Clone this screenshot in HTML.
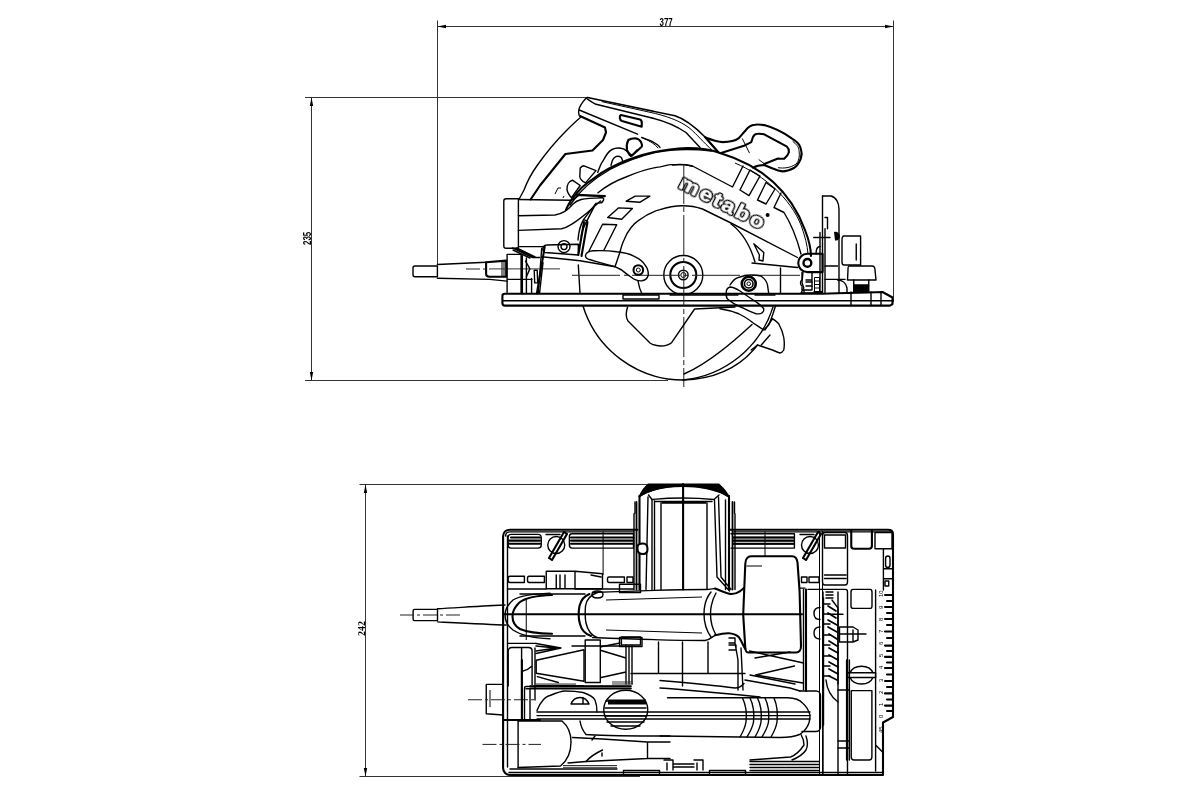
<!DOCTYPE html>
<html><head><meta charset="utf-8">
<style>
html,body{margin:0;padding:0;background:#fff;width:1200px;height:800px;overflow:hidden}
svg{display:block}
.d{stroke:#333;stroke-width:1;fill:none}
.s{stroke:#000;stroke-width:1.4;fill:none;stroke-linejoin:round;stroke-linecap:round}
.t{stroke:#000;stroke-width:2.1;fill:none;stroke-linejoin:round;stroke-linecap:round}
.n{stroke:#000;stroke-width:1;fill:none}
.c{stroke:#222;stroke-width:1;fill:none;stroke-dasharray:14 3 3 3}
.f{fill:#000;stroke:none}
text{font-family:"Liberation Sans",sans-serif}
</style></head><body>
<svg width="1200" height="800" viewBox="0 0 1200 800">
<defs><filter id="gs" x="-10%" y="-10%" width="120%" height="120%"><feColorMatrix type="saturate" values="0"/></filter></defs>
<!-- ===== DIMENSIONS TOP ===== -->
<g id="dims">
<path class="d" d="M437.5 20.5V264.5 M893.5 20.5V302 M437.5 26.5H893.5 M305 97.5H590 M311.5 97.5V380.5 M305 380.5H668"/>
<path class="f" d="M437.5 26.5 L446 24.8 L446 28.2Z M893.5 26.5 L885 24.8 L885 28.2Z M311.5 97.5 L309.8 106 L313.2 106Z M311.5 380.5 L309.8 372 L313.2 372Z"/>
<g filter="url(#gs)"><text x="0" y="0" font-size="11" font-weight="bold" transform="translate(659.5 26.3) scale(0.72 1)">377</text>
<text x="0" y="0" font-size="11" font-weight="bold" transform="translate(311 245) rotate(-90) scale(0.72 1)">235</text></g>
<path class="d" d="M359.5 484.5H648 M365.5 484.5V776.5 M359.5 776.5H640"/>
<path class="f" d="M365.5 484.5 L363.8 493 L367.2 493Z M365.5 776.5 L363.8 768 L367.2 768Z"/>
<g filter="url(#gs)"><text x="0" y="0" font-size="11" font-weight="bold" transform="translate(365 636) rotate(-90) scale(0.9 1)" style="font-family:'Liberation Serif',serif">242</text></g>
</g>
<!-- ===== TOP VIEW ===== -->
<g id="top">
<!-- handle top -->
<path class="s" d="M587.5 97.5 L675 115.8 C685 119 695 127 705 137 L718 152" style="stroke-width:1.6"/>
<path class="s" d="M587.5 97.5 C585 98.5 581 104 579.2 108.3 C578.3 111 578.5 113.5 579.2 115.5"/>
<path class="n" d="M601.7 101.6 L650 112.3 C665 115.5 680 120.5 690 128.5 C697 134.5 703 142 712.5 150.5"/>
<path class="s" d="M587.5 99.2 C592 102 595 104 596 104.2 L650 117.5 C665 121 675 125 686 132.5 L700 147.5"/>
<path class="s" d="M579.2 110 L637.5 134.2 M641.7 137.5 C646 139 650 140 652.5 141.7 C656 143.5 659 145 660 147.5"/>
<path class="t" d="M621 115 L640 119.5 C642 120 642 122 641.7 126.7 L622 121 C619.5 120 619 116 621 115Z"/>
<path class="n" d="M643.3 138.3 C650 141 655 144 658.3 148.3"/>
<!-- rear D handle -->
<path class="t" d="M705.5 137.5 C712 140 717 142 722.9 142.1 C730 142 735 141 738.5 138.4 C741 136 743 133 745.8 130.2 C748 127 751 125 755 124.7 C758 124.3 761 124.5 764.2 125.1 C775 128 784 133 791.7 138.4 C796 141 800 145 800.8 148.5 C802 152 802 155 800.8 158.6 C799 163 797 166 794.4 167.7 C790 170 786 171.4 782.5 171.4 C778 171 775 169.5 773.3 168.7 L764.2 165 C760 165 756 166 753.2 167.7"/>
<path class="n" d="M792.6 141.2 C796 144 799 147 799 150.3 C800 156 799 161 796.2 164 C790 168 784 168.5 778 167.7"/>
<path class="t" d="M721.1 153.1 L744 145.7 L751.3 142.1 C752 140 752.5 138 753.2 136.6 C754.5 134.5 756 133.8 757.7 133.8 C760 133.6 762 133.8 764.2 134.3 L787 146.7 C788.5 148 789 150 788.9 152.2 C788 155 786.5 157 784.3 158.6 C782 159 780 158.6 778 158.6 L764.2 164"/>
<path class="t" d="M705.5 137.5 L718.3 152.2"/>
<path class="n" d="M742.2 138.4 L749.5 153.1 M758.7 159.5 L766 165"/>
<!-- grip -->
<path class="s" d="M581 117 C576 121 572 125 566 131 C556 141 546 153 537.5 165 C531 174 527 182 524 190 C522 194 520 197 519 199.5"/>
<path class="t" d="M580 116 L605 127.5 L606 132.5 L603 140 L592.5 150.5 L565.4 154 L540 185.5 L530.6 199.5"/>
<path class="s" d="M580.2 168 C582 166 583 165.8 584 165.8 L596 170.6 L585.5 182.9 C582 181 580 179 579.8 176.7 Z"/>
<path class="s" d="M572.4 180.2 L580.2 185.5 L571.5 197.7 C569 195 567 192 567 189 C567 185 569 181 572.4 180.2Z"/>
<path class="s" d="M597.7 172.4 C600 166 602 162 603 161 C606 155 609 151 612 149.5 C615 148 620 147.7 624 149.2 C627 151 629 153 629.5 155.5"/>
<path class="s" d="M611 165.4 C612 161 613 159 614 158 C616 156 619 156 621.4 157.5 L622.5 160.5"/>
<path class="t" d="M628.3 140 C631 138.5 633 138.3 635 138.3 C638 138.8 640 140 641 142 C642 144 642 146 641.7 146.7 L631.7 155.8 C629 154 627.5 152 627 150 C626.5 147 626.8 143 628.3 140Z"/>
<path class="n" d="M637.5 149 L630 157"/>
<path class="t" d="M576.7 194.7 L604.9 196.1"/><path class="s" d="M599 197 C602 197 604 198 603.7 199.5 C603 201.5 601.5 202.9 600.4 202.9 L595.9 203.4 L583.5 219.7 L586.9 220.9 L595.9 203.4 M586.9 220.9 C584 226 582 231 581.2 236 M583.5 219.7 C580 226 578.5 232 578 240"/>
<path class="n" d="M555 194 L558 188 L561 188 M563 198 L564 196"/>
<!-- housing outer arc -->
<path class="t" d="M566 210 C568 205 570 201 573.2 197.7 C578 191 585 184 592.5 179.4 C598 175 604 171 610 168 C616 165 622 162 627.5 160 C645 153 665 149 687.5 148 C700 148 712 150 720 153 C760 165 790 190 805 230 C810 243 811 250 811 256"/>
<path class="s" d="M570 205 C580 190 595 178 610 169.5 C625 161.5 640 156 655 152.5 C670 149.5 690 148.5 712 151"/><path class="n" d="M735 163 C765 176 790 198 801 225 C805 236 807.5 246 808 254"/>
<path class="s" d="M598 192.7 C605 187 615 181 626 177 C640 171 650 168 660 166.9 C665 166 668 164.6 671 164.6 L683.6 164.6 C688 165 690 165.5 692.6 166.3"/>
<!-- guard inner band -->
<path class="s" d="M672.5 165 C680 164 688 165 692.5 166 L732.5 187 L743 166"/>
<path class="s" d="M740 190 L750 170 L760 176 L749 195.6Z M757.5 200 L766 182.5 L775 189 L766 204Z M774 207.5 L781 193 M774 207.5 L784 212.5 C790 222 796 235 801 254"/>
<path class="s" d="M620 252 C621 248 622 244 624 240 C628 230 633 224 639.7 219.7 C646 215 653 211.5 660 209.6 C668 207 676 205.8 682.5 205.7 C690 205.7 697 207 702.5 209 L730 222.5 L797.5 257.5"/>
<path class="s" d="M731 224 C742 232 750 245 755 262"/>
<!-- vents left -->
<path class="s" d="M626.2 201.2 L635.2 196.1 L649.9 196.1 L639.7 202.3Z M607.7 217.5 L618.4 207.9 L632.4 208.5 L621.7 219.2Z M589 251 L602.6 224.2 L616.7 224.8 L604 250"/>
<!-- metabo -->
<g filter="url(#gs)" transform="translate(677.5 187.2) rotate(27.2) scale(1.12 1)" font-size="20.5" font-weight="bold" letter-spacing="2.1"><text x="0" y="0" fill="#000" stroke="#000" stroke-width="3" stroke-linejoin="round">metabo</text><text x="0" y="0" fill="#fff" stroke="#fff" stroke-width="0.5" stroke-linejoin="round">metabo</text></g>
<circle cx="767.6" cy="214.9" r="2" class="f"/>
<!-- rear battery/block -->
<path class="s" d="M506 198.7 H518.4 V248.3 H506 C504.5 248.3 503.8 247.5 503.8 246 V201 C503.8 199.5 504.5 198.7 506 198.7Z"/>
<path class="s" d="M518.4 199.5 L571 200.3 C575 199 577 196 579.4 195.4 L603.8 196.3 M518.4 215.8 L555 215 C562 214 568 210 573 204 C577 200 581 198 602 197.9 M518.4 230.4 L561.5 228.8 C570 227 578 220 587.5 212.5 L600.5 201 M518.4 246.6 L543.6 246.6"/>
<path class="s" d="M546.7 245 L578.3 244.2 V255 L545 252.5 C543 252 542.5 250 543 248 C543.5 246 545 245 546.7 245Z"/><path class="s" d="M541.7 248.3 L538.3 293.3 M541.7 256.7 L580 260.8 L615 266.7 M578.3 265 L580 293.3"/><path class="t" d="M578.3 255 L584 222 M581.5 256 L587.5 222"/>
<circle cx="564" cy="246.6" r="6" class="s"/><circle cx="564" cy="246.6" r="3" class="s"/>
<path class="s" d="M515 248.3 L533.3 256.7 M513 250 L530 258"/>
<!-- cord -->
<path class="s" d="M415 266 H437.4 V276.7 H415 C413.5 276.7 413 276 413 275 V267.8 C413 266.7 413.5 266 415 266Z"/>
<path class="s" d="M437.4 264.5 L486.1 262.3 M437.4 278.3 L489.6 279.4 L507 281.1"/>
<path class="t" d="M486.1 262.3 L506.2 260.6 V276.7 L489.6 276.7 M486.1 262.3 V274 C486.1 276 487 276.7 489.6 276.7"/>
<path class="n" d="M504 262 V276 M502 262 V276"/>
<path class="c" d="M466 269 H490"/>
<path class="d" d="M490 268.9 H560"/>
<path class="s" d="M507.1 254.4 H521.1 V293.4 M507.1 254.4 V293.4 M507.1 279.4 H532 M526.4 258 V293.4 M531.6 278.5 V293.4"/>
<path class="t" d="M522 256 V293.4"/>
<path class="s" d="M525.5 261 L529.9 268.9 L526.4 276.7"/>
<path class="s" d="M512.4 247.9 L532.5 257.5 M516.7 247.9 L535.1 257 M532.5 257.5 H539.5"/>
<path class="t" d="M544.7 246.6 L536.9 293.4"/>
<path class="s" d="M543 262.7 L539.5 293.4 M534.2 270.2 H537.2 L537.7 282.9 H534.7Z"/>
<!-- base plate -->
<path class="t" d="M505 293.8 H820 C830 293 860 293 882.5 292 L892.5 297.5 V304 L890 305.6 H505 C503 305.6 502.4 304 502.4 303 V296 C502.4 294.5 503 293.8 505 293.8Z"/>
<path class="s" d="M503 300.8 H892.5 M623 295 H659 V299 H623Z M670 295 H738 M755 295 H775 M851 292 V305.6 M871 292 V305.6 M881 292 V305.6"/>
<!-- arbor -->
<circle cx="683.3" cy="275" r="19.5" class="s"/>
<circle cx="683.3" cy="275" r="13" class="t"/>
<circle cx="683.3" cy="275" r="4.8" class="s"/>
<circle cx="683.3" cy="275" r="2.5" class="n"/>
<path class="c" style="stroke-dasharray:40 3 5 3" d="M683.8 164 V387"/><path class="c" style="stroke-dasharray:48 4 4 4" d="M572 275.3 H800"/>
<!-- lever -->
<path class="s" d="M593.3 250.8 C600 250.5 610 250.8 616.7 251.7 C624 252.5 629 253.5 633.3 255.8 C639 258.5 643 261 645 265 C647.5 268 648.5 271 648.3 275 C647.5 278 645 280.5 641.7 280.8 C638 281 634 279.5 631.7 277.5 C628 275 624.5 272.5 621.7 270 L615 266.7 C607 264.5 597 262 588.3 259.2 C585.5 258 585 256 585.8 254.5 C587 252 590 251 593.3 250.8Z"/>
<path class="s" d="M620 252 L615 266.7"/>
<circle cx="638.3" cy="270" r="4.8" class="t"/><circle cx="638.3" cy="270" r="2" class="n"/>
<!-- right knob on lower guard -->
<circle cx="748.75" cy="283.75" r="7" class="t" style="stroke-width:2.6"/><circle cx="748.75" cy="283.75" r="4.3" class="s" style="stroke-width:1.6"/><circle cx="748.75" cy="283.75" r="1.8" class="n"/>
<path class="s" d="M730 285 C733 280 737 277.5 740 277 C745 275 748 275 751 275 C756 275 759 275.5 761 276 C765 279 767 282 767.5 285 L768.75 293.75"/>
<path class="s" d="M730 287 C727 288 726 290 726.25 293 C726 296 726.5 298 727.5 299 C731 302 735 304.5 738.75 306 C745 309 750 312 756.25 313.75 C759 314.2 761 313.8 762.5 312.5 C764 311 764 310 763.75 308.75 C762 306 759 304 756.25 302 C750 298 745 294.5 740 291 C736 288.5 733 287 730 287Z"/>
<path class="s" d="M720 308.75 C728 310 733 311.5 738.75 313.75 C745 317 749 319.5 752.5 322.5 C757 325.5 760 327.5 763.75 330 C765.5 328 767 326.5 768.75 325 C771 320 773 314 775 307.5 L776 305.6"/>
<path class="s" d="M765 330 C767.5 326 770 322 772.5 318.75 C775 320 777 322 778.75 323.75 C781 328 783 333 783.75 337.5 C784.5 342 784.5 346 783.75 350 C782.5 352 781.5 353 780 353 C777 352 775 351 772.5 350 L757.5 345 C755 347 753 348.5 751.25 350"/>
<path class="s" d="M770 335 L761.25 345"/>
<!-- lower blade -->
<path class="s" d="M583 306 A105 105 0 0 0 683 380 A105 105 0 0 0 773 307"/>
<path class="s" d="M684 374 C705 365 730 345 752 324.5"/>
<path class="s" d="M627.5 307.2 C626 312 626 318 628 321 L650 343 C656 347 666 347 671.6 342.7 L694.6 309 L735 307"/>
<path class="s" d="M683 380 C715 379 740 368 757.5 345"/>
<!-- right fence -->
<path class="s" d="M822.5 196 H831 C836 197 839 203 839 209 V293"/>
<path class="s" d="M822.5 196 V293 M825 228.75 V293 M820 232.5 V293 M813.75 237.5 H830 M825 217.5 H827.5 V228.75"/>
<path class="f" d="M834 232 C837 231 839.5 233 840 236 C840 239 838 241 835 240.5Z"/>
<path class="s" d="M844 236 H860.6 V265 H844 C842.5 265 842 263 842 262 V240 C842 238 842.5 236 844 236Z M856.25 244 V260"/>
<path class="s" d="M816 254 C816 249 818 246.5 820 246.5"/>
<path class="s" d="M849 266 H872 C874 266 875 268 875 270 L876 280 H847.5 L848 270 C848 268 848 266 849 266Z"/>
<path class="s" d="M853.75 280 V285 H868.75 V280"/>
<path class="f" d="M853 285 H869.5 V292.5 H853Z"/>
<path class="t" d="M807.4 253.8 H822.6 V272.1 H807.4 A9.15 9.15 0 0 1 807.4 253.8Z"/>
<circle cx="807.4" cy="262.9" r="3.9" class="t" style="stroke-width:2.4"/>
<path class="s" d="M803 272 L802 282 C802.5 285 803.5 287 803.8 288 L801 293 H822.6 M806 282 H812 M806 286 H812"/>
<path class="s" d="M752 263 L797.5 267.5"/><path class="s" d="M638 281 C639 287 640.5 291 642 294"/>
<path class="s" d="M753.8 243.8 L763.8 252.5 L763 261 L759 260 L759.4 255 Z"/>
<path class="s" d="M780.5 268 V293 M825 266 H837.5 M825 279.4 H845 M837.5 280 C842 280 846 283 847 288 V293"/>
<path class="s" d="M802 272.5 V280 C800 281 800 285 802 286 V290 H812 V272.5 M806 280 H812 M804 290 V292"/>
<path class="n" d="M814.5 277.5 H819.5 V292 H814.5Z M814.5 281 H819.5 M814.5 284.5 H819.5 M814.5 288 H819.5"/><path class="f" d="M813.5 291 H822 V293 H813.5Z"/>
</g>

<!-- ===== BOTTOM VIEW ===== -->
<g id="bottom">
<!-- base plate outline -->
<path class="t" d="M637.5 529.75 H510 C506 529.75 503.1 532.5 503.1 536.5 V768 C503.1 772 506 775 510 775 H883 V722.5 L893 717 V534 C893 531.5 891 529.75 888 529.75 H729"/>
<path class="s" d="M505.6 536 C505.6 533.5 507.5 531.9 510 531.9 H633.75 M733.5 531.9 H891 M507.5 536 V720 M509 772.5 H883"/>
<!-- top row slots -->
<path class="s" d="M511 534.4 H538 C540 534.4 541.25 535.5 541.25 537.5 V545 C541.25 547 540 548.1 538 548.1 H511 C509 548.1 508.1 547 508.1 545 V537.5 C508.1 535.5 509 534.4 511 534.4Z"/>
<path class="t" d="M511 537.5 H540 M509 540.6 H540 M509 543.75 H540"/>
<path class="s" d="M572 533.75 H633.5 V548.1 H572 C570.5 548.1 569.4 547 569.4 545 V536.5 C569.4 535 570.5 533.75 572 533.75Z"/>
<path class="t" d="M571 537.5 H633.5 M571 540.6 H633.5 M571 543.75 H633.5"/>
<path class="s" d="M731 533.75 H794.4 V548.1 H731 M733 537.5 H794.4 M733 540.6 H794.4 M733 543.75 H794.4"/>
<path class="t" d="M733 537.5 H794 M733 540.6 H794 M733 543.75 H794"/>
<!-- angle symbols -->
<circle cx="556.25" cy="545" r="8.5" class="s"/>
<path class="t" d="M549 558 L564 532 M552 560 L567 534 M549 558 L552 560 M564 532 L567 534"/>
<path class="s" d="M546 534.5 H560"/>
<circle cx="810" cy="545" r="8.5" class="s"/>
<path class="t" d="M803 558 L818 532 M806 560 L821 534 M803 558 L806 560 M818 532 L821 534"/>
<path class="s" d="M800 534.5 H814"/>
<!-- vertical thin lines top area -->
<path class="n" d="M603.1 531.5 V575 M765 531.5 V556"/>
<!-- second row slots -->
<path class="s" d="M510 576.25 H524.4 V582.5 H510 C508.5 582.5 508.1 581.5 508.1 580 V578.5 C508.1 577 508.5 576.25 510 576.25Z M529 576.25 H544.4 V582.5 H529 C528 582.5 527.5 581.5 527.5 580 V578.5 C527.5 577 528 576.25 529 576.25Z M609 577 H624.4 V582.5 H609 C608 582.5 607.5 581.5 607.5 580 V578.5 C607.5 577.5 608 577 609 577Z M627 577 H633 V582.5 H627Z"/>
<path class="s" d="M507.5 589 H546 M575 589 H633.5 M800 588.1 H805"/>
<path class="s" d="M801.5 577 H807 V582.5 H801.5Z M809 577 H819 V582.5 H809Z"/>
<!-- switch box -->
<path class="s" d="M546.25 571.25 H575 L602.5 573.75 V588.75 H546.25Z M575 571.25 V588.75 M556.25 575 V588 M560 575 V588 M565 575 V588 M591 575 L601 577"/>
<!-- motor top cylinder -->
<path class="f" d="M648 483.5 H719 C723 487 727 491 729.5 496.5 L727.5 497 C718 490 700 486.5 683 486.5 C666 486.5 650 490 640 497 L638.5 496.5 C641 491 644 487 648 483.5Z"/>
<path class="t" d="M639.5 496 C650 489 666 486 683 486 C700 486 716 489 728.5 496"/>
<path class="s" d="M648.5 495 L652 499.5 C662 498.5 672 498 683 498 C694 498 704 498.5 714 499.5 L719 495"/>
<path class="s" d="M655 501.5 H712 M662 503 H706"/>
<path class="t" d="M639.5 496 V589.5 M729 496 V589.5"/>
<path class="t" d="M636.5 502 V589.5 M732.5 502 V589.5" style="stroke-width:1.8"/>
<path class="s" d="M635 502 V513 L634 514 V589.5 M734.5 502 V513 L735 514 V589.5"/>
<path class="s" d="M648 497 L646 589.5 M652 500 V589.5 M654.5 501 V589.5 M661 503 V589.5"/>
<path class="s" d="M714.5 500 L717 577 L729.5 591 M718.5 497 L721 577 L731 589.5 M707 503 V589.5 M725.5 500 V589.5"/>
<path class="t" d="M683.1 484 V589.5"/>
<path class="t" d="M637.5 547 C637.5 544 640.5 543.5 643 543.5 C646 543.5 647.5 545.5 647.5 549 C647.5 552 646 554 643 554 C640 554 637.5 552.5 637.5 549Z" style="fill:#fff"/>
<!-- rear handle block (top view) -->
<path class="t" d="M745.3 563.75 C745.5 559 748 556.2 751 556.2 H792 C795 556.2 797 558.5 797.5 562.4 L799.6 591.3 L801 646.3 C801 650 799 652.5 796.2 652.5 H748 C746 652.5 745.5 650 745.3 648 L743.2 614.6 Z"/>
<path class="n" d="M746.5 566 H762"/>
<!-- handle tube -->
<path class="t" d="M505 614.25 H802"/>
<path class="s" d="M550 593.1 C530 594 519 596 513 600 C507.5 605 505 610 505 615 C505 621 507.5 626 513 630 C519 634 530 638 550 638.75"/>
<path class="t" d="M552 595 C538 595.5 527 597 520 602 C514.5 607 512.5 612 512.5 616.25 C512.5 621 514.5 626 520 629 C527 632 538 633.5 552 633.75"/>
<path class="n" d="M526.25 600 V640"/>
<path class="s" d="M520 594 H585 M520 636 H585"/>
<path class="t" d="M589.5 594 C584 596 581 600 579.5 606 C578.5 611 578.5 619 580 624 C581.5 630 585 634 591 636"/>
<path class="s" d="M597.5 592.5 C590 595 586.5 600 585.5 606 C585 612 585 618 586 623 C587.5 630 591 635 597 637.5"/>
<path class="s" d="M592.5 592.5 C630 591 680 589.5 705 589.5 C710 589.5 713 588.5 715 588.5 M592.5 637.5 C630 639 680 640.5 705 640.5 C710 640 713 636 715 635.3"/>
<path class="n" d="M606 600 L702 597 M606 630 L702 633"/>
<path class="s" d="M711 592 C706 598 704 606 704 614 C704 622 706 630 711 637 M716 593 C712 600 710.5 607 710.5 614 C710.5 621 712 628 716 635"/>
<path class="s" d="M619.5 584.25 H640.5 V592.5 H619.5Z M619.5 637.5 H642 V646.5 H619.5Z"/>
<path class="s" d="M592 594.5 C592 592 594.5 591 597.5 591 C600.5 591 603 592 603 594.5 C603 597 600.5 598 597.5 598 C594.5 598 592 597 592 594.5Z"/>
<path class="t" d="M715 588.5 C722 591 727 594 731.5 594 C735 594 738 592.5 739.8 591.3 C741.5 590 743 589 744 588 M715 635.3 C720 634 725 633 728.75 633.2 C733 633.5 736 634.5 738.4 636.7 C741 640 743 645 745.3 649"/>
<!-- cord bottom -->
<path class="s" d="M414.5 609.4 H437.5 V620.6 H414.5 C413.5 620.6 413.1 620 413.1 619 V611 C413.1 610 413.5 609.4 414.5 609.4Z"/>
<path class="s" d="M437.5 608.75 C460 607.5 490 605.5 505 605 M437.5 621.9 C460 623 490 624.5 506.25 625"/>
<path class="c" d="M400 615 H460"/>
<!-- X frames middle -->
<path class="s" d="M507.5 643.4 H536 M572 646 H622"/>
<path class="s" d="M512 647.5 H528.5 C530.5 647.5 532.1 649 532.1 651 V684.8 M512 647.5 C509.5 647.5 508.2 649 508.2 651.5 V686 M521.6 648 V700 M523 671 C528 670 530 668 532 666"/>
<path class="s" d="M535 648 V700"/>
<path class="s" d="M536 643.5 L561 648 L536 653.5 M536 646 L556 648 L536 651"/>
<path class="s" d="M536.2 660.3 L584 649.8 V681.3 L536.2 673.2 Z M537.3 676.7 L558.3 682.5"/>
<path class="s" d="M585.2 640 H600.3 V682.5 H585.2Z"/>
<path class="s" d="M601.2 646.7 L620 643 M601.2 650.5 L626 658 M601.2 677.5 L626 672 M626 645 V684"/>
<path class="s" d="M621.4 637 H640.5 V645 H621.4Z M629 646 V684 M632 646 V684"/>
<path class="s" d="M530 686 H631 M530 688.3 H631"/>
<path class="d" d="M536 684 H576 M536 685.3 H576 M612 682 H633 M612 684 H633"/>
<path class="s" d="M658.5 642 V673.5 M682.5 642 V686 M708 642 V673.5 M631 673.5 H745"/>
<path class="s" d="M749.5 651 L803.5 663 M794.5 666 L755.5 675 L803 683 M755 658 L790 652"/>
<path class="s" d="M729 638 H735 V643 H729 M729 645 H736 V650 H729 M735 643 L738 660 V690 M741 648 L743 690"/>
<!-- right side structures -->
<path class="t" d="M806 589.5 V691"/>
<path class="s" d="M803.5 589.5 V690"/><path class="n" d="M819.5 531 V775 M822.5 531 V775"/>
<path class="s" d="M825 532.5 H845 C847 532.5 847.5 534 847.5 536 V582 C847.5 584 847 585 845 585 H825 C823.5 585 822.5 584 822.5 582 V536 C822.5 534 823.5 532.5 825 532.5Z M824.5 535 H845.5 V548 H824.5Z M824.5 575 H846 M824.5 578.5 H846"/>
<path class="t" d="M851.25 530 V546 C851.25 548 852 548.75 854 548.75 H869 C871 548.75 871.9 548 871.9 546 V530"/>
<path class="s" d="M875 532.5 H892 V548.75 H875Z M883.4 548.75 V590 M887.8 556 C889.3 556 890 557 890 558.5 V565 C890 566.5 889.3 567.5 887.8 567.5 C886.3 567.5 885.6 566.5 885.6 565 V558.5 C885.6 557 886.3 556 887.8 556Z M884.4 568.75 H892.5 M884.4 578.75 H892.5 M885 581 H888.75 V586 H885Z"/>
<path class="s" d="M853 589.4 H870 C871.5 589.4 872 590.5 872 592 V606 C872 607.5 871.5 608.4 870 608.4 H853 C851.5 608.4 851 607.5 851 606 V592 C851 590.5 851.5 589.4 853 589.4Z"/>
<path class="s" d="M808 589.4 H845.5 C847 589.4 847.5 590.5 847.5 592 V775 M823 592 V775 M838 592 V775 M846.6 660 V760 M849.4 660 V760"/>
<!-- rack -->
<path class="s" d="M823.5 598 V725 M826 592 H833 M826 595 H833 M826 598 H833 M832 600 L838 608 V684 M824 604 H830 M824 614 H830 M824 624 H830 M824 635 H830 M824 645 H830 M824 656 H830 M824 666 H830 M824 676 H830"/>
<path class="s" style="stroke-width:1.7" d="M828 606 L836 611 M828 613 L836 618 M828 620 L837 625 M828 627 L837 632 M829 634 L837 639 M829 641 L837 646 M829 648 L838 653 M829 655 L838 660 M829 662 L838 667 M829 669 L838 674 M829 676 L837 680"/>
<path class="s" d="M826 680 C827 690 831 697 838 702"/>
<path class="s" d="M820 607.5 C816 607.5 814 610 814 613.5 C814 617 816 619.5 820 619.5 M820 627 C816 627 814 629.5 814 633 C814 636.5 816 639 820 639"/>
<path class="s" d="M839.5 627 H853 L858 630 V640 L853 642 H839.5Z M853 630 V641 M828 614.25 H843 M839 634 H866"/>
<!-- oval & rect right -->
<path class="s" d="M850 673 C852 668 857 666.25 861.5 666.25 C866 666.25 871 668 873 673 M850 677.5 C852 682 857 684 861.5 684 C866 684 871 682 873 677.5 M847.5 672.8 H875.6 V677.5 H847.5Z"/>
<path class="s" d="M851.25 690.6 H871.9 V757 C871.9 759 871 760 869 760 H854 C852 760 851.25 759 851.25 757Z"/>
<path class="s" d="M838 690 H849 M838 741 H849 M838 748 H849"/>
<!-- ruler -->
<path class="s" d="M875.6 590 V771 M875.6 745 L883 752.5"/>
<path class="t" d="M885 595 H892.5 M887 601 H892.5 M885 607 H892.5 M887 613 H892.5 M885 619 H892.5 M887 625 H892.5 M885 631.5 H892.5 M887 638 H892.5 M885 645.6 H892.5 M887 651 H892.5 M885 656.9 H892.5 M887 662.5 H892.5 M885 668 H892.5 M887 674.5 H892.5 M885 681 H892.5 M887 687 H892.5 M885 693.4 H892.5 M887 699.5 H892.5 M885 705.6 H892.5 M887 711 H892.5"/>
<g font-size="6" font-family="Liberation Sans" fill="#000" filter="url(#gs)">
<text transform="translate(882.5 597) rotate(-90)">10</text>
<text transform="translate(882.5 609) rotate(-90)">9</text>
<text transform="translate(882.5 621) rotate(-90)">8</text>
<text transform="translate(882.5 633) rotate(-90)">7</text>
<text transform="translate(882.5 645) rotate(-90)">6</text>
<text transform="translate(882.5 657) rotate(-90)">5</text>
<text transform="translate(882.5 669) rotate(-90)">4</text>
<text transform="translate(882.5 682) rotate(-90)">3</text>
<text transform="translate(882.5 694) rotate(-90)">2</text>
<text transform="translate(882.5 706) rotate(-90)">1</text>
<text transform="translate(882.5 718) rotate(-90)">0</text>
<text transform="translate(882.5 733) rotate(-90)">45</text>
</g>
<!-- left knob -->
<path class="s" d="M486.25 684.4 L503.1 684.4 M486.25 684.4 V713.75 L503.1 715"/>
<path class="n" d="M490 690 V707"/>
<path class="c" d="M468 699.75 H535"/>
<path class="t" d="M521.9 660 V720 M503.1 720 H540"/>
<path class="s" d="M518.1 720 V767.5 M507.5 720 V767"/>
<!-- lower left block -->
<path class="s" d="M518.1 721 H562 C568 726 571 732 571 742 C571 752 568 760 560.5 766 L518.1 767.5"/>
<path class="c" d="M482.5 744.4 H541"/>
<!-- frames -->
<path class="s" d="M524.5 688 C524.5 687 525 686.5 526 686.5 H631 M526 688.75 H631 M524.5 688 V720 M530 690 V720"/>
<path class="t" d="M537 686 H583"/>
<path class="s" d="M537 712 H810 M537 715.6 H810 M537 719 H810"/>

<ellipse cx="625.75" cy="709.75" rx="22" ry="19.5" class="s"/>
<path class="f" d="M608 699.5 H646 V704.5 H608Z"/>
<path class="s" d="M606 701 H645 M605 708 H646 M605 716 H646 M607 722 H644 M611 726 H640"/>
<path class="s" d="M537 710.5 C540 702 546 696 550 695.5 C556 693 561 691 565 691 C572 691 578 691.5 583 692.5 C590 695 594 698 595 700 C597 705 597 709 597 712"/>
<path class="s" d="M571 704 C573 699 576 697.5 580 697.5 C584 697.5 587 699 589 704 Z M583 697.5 V704"/>
<path class="s" d="M580 721 C581 727 583 731 586 734.5 C600 736 640 736 670 736"/>
<path class="s" d="M572.5 737.5 L602.5 739 L647.5 742 V758.5 L586 761.5 L568 763 M647.5 742 H670 M647.5 758.5 H670"/>
<path class="s" d="M592 740 L595 736 M586 761.5 C590 757 596 753 602.5 750 M602 753 V756"/>
<!-- lower motor -->
<path class="s" d="M667.5 697.75 L787.5 697.75 C795 698 800 700 802.5 703 C806 706 808.5 710 810 715 C810 720 809 724 807 727 C805 731 802 733 799.5 734.5 C795 736.5 790 737.5 780 737.5 L660 736"/>

<path class="s" d="M742.5 698 C746 705 747 713 746 722 C745 728 743 732 740 737 M750 698 C753.5 705 754.5 713 753.5 722 C752.5 728 750 732 747 737 M757.5 698 C761 705 762 713 761 722 C760 728 758 732 755 737 M765 698 C768.5 705 769.5 713 768.5 722 C767.5 728 765 732 762 737 M774 698 C777 705 778 713 777 722 C776 728 774 732 771 737"/>
<path class="s" d="M799.5 691 H816 C818.5 691 820.5 693 820.5 695.5 V727 C820.5 729.5 818.5 731.5 816 731.5 H802 M801 734.5 C803 738 804 742 804 745 C800 751 796 755 790.5 757 L750 760 M806 736 C808 742 808 746 806 750 C802 756 797 758 792 760"/>
<path class="s" d="M660 680.5 C690 683 720 686 735 688 C740 688 742 686 744 683.5 M660 688 C690 690 730 694 760 697"/>
<path class="s" d="M745 680 L790 688 L800 691 M750 675 L795 684"/>
<!-- bottom slots -->
<path class="s" d="M750 761.5 H819 M750 764.5 H819 M750 767.5 H819 M750 770.5 H819 M709.5 775 V770.5 H745.5 V775"/>
<path class="s" d="M664 760 H673 V770 M667 763 V770 M694 760 H703 V770 M697 763 V770 M673 764 H694 M673 767 H694"/>
<path class="s" d="M510 769 H617 M623.5 775 V770.5 H659.5 V775"/><path class="d" d="M563 765.5 H617 M563 767.3 H617"/>
</g>
</svg>
</body></html>
